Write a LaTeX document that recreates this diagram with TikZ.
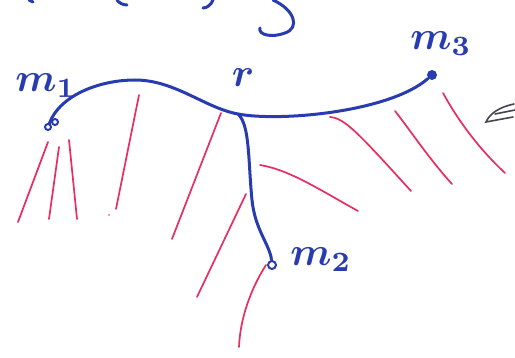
\documentclass[tikz,border=0pt]{standalone}
\usetikzlibrary{positioning}

\definecolor{inkblue}{RGB}{40,60,175}
\definecolor{inkred}{RGB}{232,45,95}
\definecolor{inkgray}{RGB}{70,70,80}

\tikzset{
  branch/.style={draw=inkblue,line width=3pt,line cap=round,line join=round},
  hair/.style={draw=inkred,line width=1.7pt,line cap=round},
  lbl/.style={text=inkblue,font=\boldmath,scale=4},
  tipdot/.style={circle,fill=inkblue,inner sep=0pt,minimum size=10pt},
  tiploop/.style={circle,draw=inkblue,line width=2pt,inner sep=0pt,minimum size=6pt}
}

\begin{document}
\begin{tikzpicture}[x=1pt,y=-1pt]
\useasboundingbox (0,0) rectangle (515,358);

% ends of the tree
\node[tiploop] (m1) at (48,127) {};
\draw[inkblue,line width=2pt] (55,122) circle (3pt);
\node[tipdot] (m3) at (432,75) {};
\node[tiploop,minimum size=8pt] (m2) at (272,265) {};
\coordinate (r) at (238,114);

\node[lbl] (m1lbl) at (46,86) {$m_1$};
\node[lbl] (rlbl) at (243,78) {$r$};
\node[lbl] (m3lbl) at (441,44) {$m_3$};
\node[lbl] (m2lbl) at (321,260) {$m_2$};

% blue tree
\draw[branch] (m1) .. controls (60,95) and (100,80) .. (135,80)
  .. controls (175,80) and (205,108) .. (r)
  .. controls (280,122) and (390,112) .. (m3);
\draw[branch] (r) .. controls (250,125) and (248,160) .. (252,200)
  .. controls (255,230) and (270,245) .. (m2);

% red strokes
\draw[hair] (48,142) -- (18,222);
\draw[hair] (59,147) -- (49,219);
\draw[hair] (69,140) -- (77,219);
\draw[hair] (139,95) -- (116,209);
\fill[inkred] (109,215) circle (0.9pt);
\draw[hair] (221,113) -- (172,239);
\draw[hair] (246,194) -- (197,297);
\draw[hair] (266,265) .. controls (250,290) and (240,320) .. (239,347);
\draw[hair] (260,165) .. controls (290,170) and (320,190) .. (358,211);
\draw[hair] (330,117) .. controls (345,118) and (360,135) .. (411,191);
\draw[hair] (395,111) .. controls (410,130) and (430,160) .. (452,184);
\draw[hair] (443,93) .. controls (455,115) and (475,145) .. (505,173);

% grey arrow at the edge
\draw[inkgray,line width=1.6pt,line cap=round] (514,104) .. controls (500,107) and (490,113) .. (486,122) -- (513,117);
\draw[inkgray,line width=1.6pt,line cap=round] (495,114) -- (515,110);

% cut-off writing at the top
\draw[branch] (29,0) -- (33,2);
\draw[branch] (117,0) .. controls (119,3) and (123,5) .. (127,5);
\draw[branch] (213,0) .. controls (211,5) and (207,8) .. (203,8);
\draw[branch] (273,0) .. controls (295,10) and (300,28) .. (285,33)
  .. controls (272,38) and (258,35) .. (260,28);
\end{tikzpicture}
\end{document}
